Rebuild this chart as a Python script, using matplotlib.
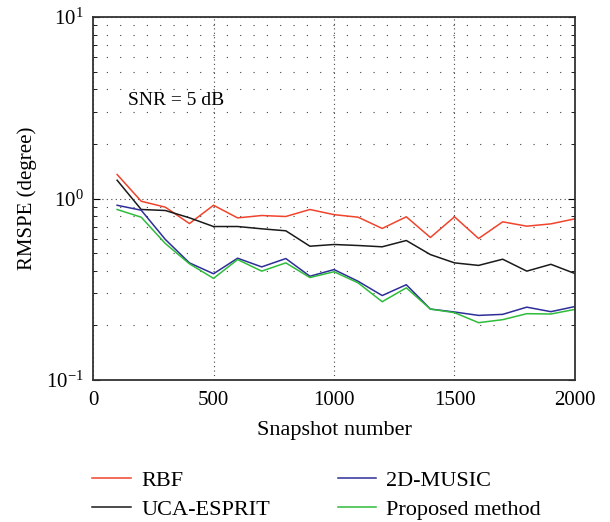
import matplotlib
matplotlib.use("Agg")
import matplotlib.pyplot as plt
from matplotlib.ticker import LogLocator, NullFormatter

snapshots = [100, 200, 300, 400, 500, 600, 700, 800, 900, 1000,
             1100, 1200, 1300, 1400, 1500, 1600, 1700, 1800, 1900, 2000]

rbf = [1.356, 0.966, 0.896, 0.728, 0.918, 0.782, 0.806, 0.796, 0.870, 0.815,
       0.789, 0.684, 0.793, 0.610, 0.793, 0.602, 0.744, 0.704, 0.725, 0.773]
uca_esprit = [1.261, 0.870, 0.859, 0.783, 0.701, 0.701, 0.681, 0.664, 0.546, 0.558,
              0.551, 0.542, 0.587, 0.491, 0.442, 0.428, 0.463, 0.398, 0.434, 0.386]
music_2d = [0.918, 0.862, 0.595, 0.442, 0.385, 0.469, 0.420, 0.467, 0.373, 0.406,
            0.350, 0.292, 0.335, 0.246, 0.237, 0.227, 0.230, 0.252, 0.238, 0.254]
proposed = [0.870, 0.789, 0.565, 0.437, 0.363, 0.461, 0.398, 0.442, 0.367, 0.395,
            0.343, 0.270, 0.322, 0.246, 0.235, 0.207, 0.215, 0.232, 0.231, 0.245]

plt.rcParams['font.family'] = ['Liberation Serif', 'DejaVu Serif']
plt.rcParams['mathtext.fontset'] = 'stix'

fig = plt.figure(figsize=(6.1, 5.22), dpi=100)
ax = fig.add_axes([0.1525, 0.272, 0.7901, 0.6954])

ax.plot(snapshots, rbf, color='#f0442c', lw=1.1, label='RBF')
ax.plot(snapshots, uca_esprit, color='#1a1a1a', lw=1.1, label='UCA-ESPRIT')
ax.plot(snapshots, music_2d, color='#2e2e9a', lw=1.1, label='2D-MUSIC')
ax.plot(snapshots, proposed, color='#2ebc3a', lw=1.1, label='Proposed method')

ax.set_yscale('log')
ax.set_xlim(0, 2000)
ax.set_ylim(0.1, 10)
ax.set_xticks([0, 500, 1000, 1500, 2000])
ax.yaxis.set_minor_locator(LogLocator(base=10, subs=range(2, 10)))
ax.yaxis.set_minor_formatter(NullFormatter())

ax.grid(True, which='major', color='#444444', linestyle=(0, (1, 3)), lw=0.8)
ax.grid(True, which='minor', axis='y', color='#444444', linestyle=(0, (1, 11)), lw=0.8)

ax.tick_params(axis='both', which='both', direction='in', right=True, top=False, labelsize=15)
ax.tick_params(axis='x', length=0, pad=8)
ax.tick_params(axis='y', which='major', length=5, pad=7)
ax.tick_params(axis='y', which='minor', length=3)
for s in ax.spines.values():
    s.set_linewidth(1.3)
    s.set_color('#333333')

ax.set_xlabel('Snapshot number', fontsize=16, labelpad=8)
ax.set_ylabel('RMSPE (degree)', fontsize=15, labelpad=6)
ax.text(0.073, 0.771, 'SNR = 5 dB', transform=ax.transAxes, fontsize=14, va='center')

handles, labels = ax.get_legend_handles_labels()
fig.legend(handles, labels, loc='center', bbox_to_anchor=(0.519, 0.0517), ncol=2,
           frameon=False, fontsize=16, handlelength=1.75, columnspacing=3.05,
           labelspacing=0.4, handletextpad=0.45)

fig.savefig('out.png', dpi=100)
